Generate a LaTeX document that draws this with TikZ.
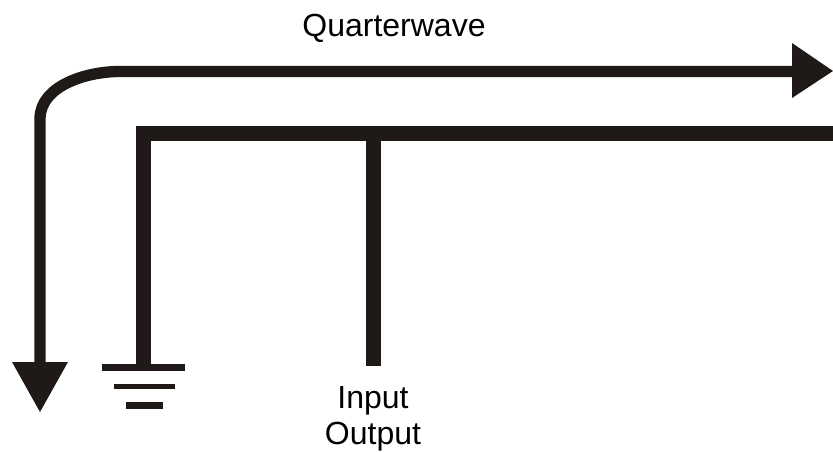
\documentclass[tikz,border=0pt]{standalone}
\usepackage{fontspec}
\setmainfont{Liberation Sans}
\definecolor{ink}{HTML}{1F1A17}
\tikzset{
  wire/.style={line width=11.25pt,color=ink},
  thinwire/.style={line width=8.5pt,color=ink},
  gbar/.style={fill=ink,draw=none},
  lbl/.style={font=\fontsize{24}{27}\selectfont,text=black,inner sep=0pt,align=center},
  tip/.style={fill=ink,draw=none}
}
\begin{document}
\begin{tikzpicture}[x=0.75pt,y=-0.75pt]
\useasboundingbox (0,0) rectangle (833,451);
\coordinate (rs) at (118,71.5);
\coordinate (re) at (795,71.5);
\coordinate (dn) at (40,364);
\coordinate (fa) at (833,133.5);
\coordinate (fb) at (143.5,133.5);
\coordinate (gt) at (143.5,366);
\coordinate (ia) at (373.5,133.5);
\coordinate (ib) at (373.5,366);
\draw[thinwire] (re) -- (rs) .. controls (85,72) and (41,86) .. (40,118) -- (dn);
\fill[tip] (792,43) -- (833,71) -- (792,98) -- cycle;
\fill[tip] (12,362) -- (68,362) -- (40,412) -- cycle;
\draw[wire] (fa) -- (fb) -- (gt);
\draw[wire] (ia) -- (ib);
\fill[gbar] (102,364) rectangle (185,371);
\fill[gbar] (114,384) rectangle (175,389);
\fill[gbar] (126,402) rectangle (163,409);
\node[lbl] (q) at (394,28) {Quarterwave};
\node[lbl] (io) at (373,418.5) {Input\\Output};
\end{tikzpicture}
\end{document}
